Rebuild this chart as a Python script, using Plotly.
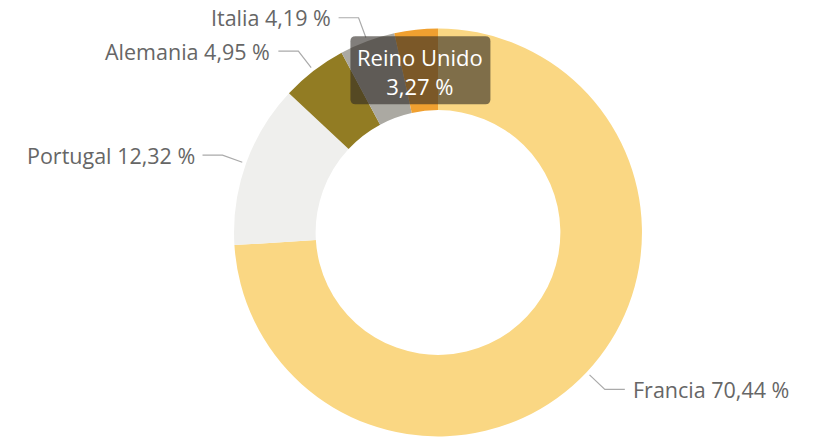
import math
import plotly.graph_objects as go

# ---- data ----
countries = ["Francia", "Portugal", "Alemania", "Italia", "Reino Unido"]
shares = [70.44, 12.32, 4.95, 4.19, 3.27]
label_texts = ["70,44 %", "12,32 %", "4,95 %", "4,19 %", "3,27 %"]
colors = ["#FAD783", "#EFEFED", "#927C23", "#ABA9A2", "#F0A030"]

W, H = 818, 439
dom_x = [0.2861, 0.7848]
dom_y = [0.0057, 0.9351]
hole = 0.6

fig = go.Figure(go.Pie(
    labels=countries, values=shares, sort=False, direction="clockwise",
    rotation=0, hole=hole, marker=dict(colors=colors, line=dict(width=0)),
    textinfo="none", hoverinfo="none", showlegend=False,
    domain=dict(x=dom_x, y=dom_y),
))

# geometry derived from the pie domain (figure pixel space)
cx = (dom_x[0] + dom_x[1]) / 2 * W
cy = (1 - (dom_y[0] + dom_y[1]) / 2) * H
R = min((dom_x[1] - dom_x[0]) * W, (dom_y[1] - dom_y[0]) * H) / 2
r_in = R * hole

def px(x, y):
    return x / W, 1 - y / H

total = sum(shares)
shapes, annotations = [], []
cum = 0.0
label_font = dict(family="Segoe UI, Open Sans, sans-serif", size=21.5, color="#666666")
for name, v, t in zip(countries, shares, label_texts):
    mid = (cum + v / 2) / total * 2 * math.pi
    cum += v
    s, c = math.sin(mid), math.cos(mid)
    if name == "Reino Unido":
        rm = (R + r_in) / 2
        bx, by = cx + rm * s, cy - rm * c
        bw, bh, rr = 140, 68, 5
        x0, x1, y0, y1 = bx - bw / 2, bx + bw / 2, by - bh / 2, by + bh / 2
        pts = [
            ("M", (x0 + rr, y0)), ("L", (x1 - rr, y0)), ("Q", (x1, y0), (x1, y0 + rr)),
            ("L", (x1, y1 - rr)), ("Q", (x1, y1), (x1 - rr, y1)),
            ("L", (x0 + rr, y1)), ("Q", (x0, y1), (x0, y1 - rr)),
            ("L", (x0, y0 + rr)), ("Q", (x0, y0), (x0 + rr, y0)),
        ]
        path = ""
        for p in pts:
            coords = " ".join("%.5f,%.5f" % px(*q) for q in p[1:])
            path += f"{p[0]} {coords} "
        path += "Z"
        shapes.append(dict(type="path", xref="paper", yref="paper", path=path,
                           fillcolor="rgba(45,40,35,0.6)", line=dict(width=0), layer="above"))
        ax, ay = px(bx, by + 1)
        annotations.append(dict(x=ax, y=ay, xref="paper", yref="paper", showarrow=False,
                                text=f"{name}<br>{t}", align="center",
                                font=dict(family="Segoe UI, Open Sans, sans-serif", size=22, color="white"),
                                xanchor="center", yanchor="middle", borderpad=0))
        continue
    r1, r2, hlen, gap = R + 4, R + 25, 20, 7
    p1 = (cx + r1 * s, cy - r1 * c)
    p2 = (cx + r2 * s, cy - r2 * c)
    side = 1 if s > 0 else -1
    p3 = (p2[0] + side * hlen, p2[1])
    path = "M %.5f,%.5f L %.5f,%.5f L %.5f,%.5f" % (*px(*p1), *px(*p2), *px(*p3))
    shapes.append(dict(type="path", xref="paper", yref="paper", path=path,
                       line=dict(color="#AAAAAA", width=1.2), layer="above"))
    tx, ty = px(p3[0] + side * gap, p3[1])
    annotations.append(dict(x=tx, y=ty, xref="paper", yref="paper", showarrow=False,
                            text=f"{name} {t}", font=label_font,
                            xanchor="left" if side > 0 else "right", yanchor="middle",
                            borderpad=0))

fig.update_layout(width=W, height=H, margin=dict(l=0, r=0, t=0, b=0),
                  paper_bgcolor="white", plot_bgcolor="white",
                  shapes=shapes, annotations=annotations)
fig.write_html("out.html", config={"displayModeBar": False},
               post_script="document.body.style.margin='0px';")
